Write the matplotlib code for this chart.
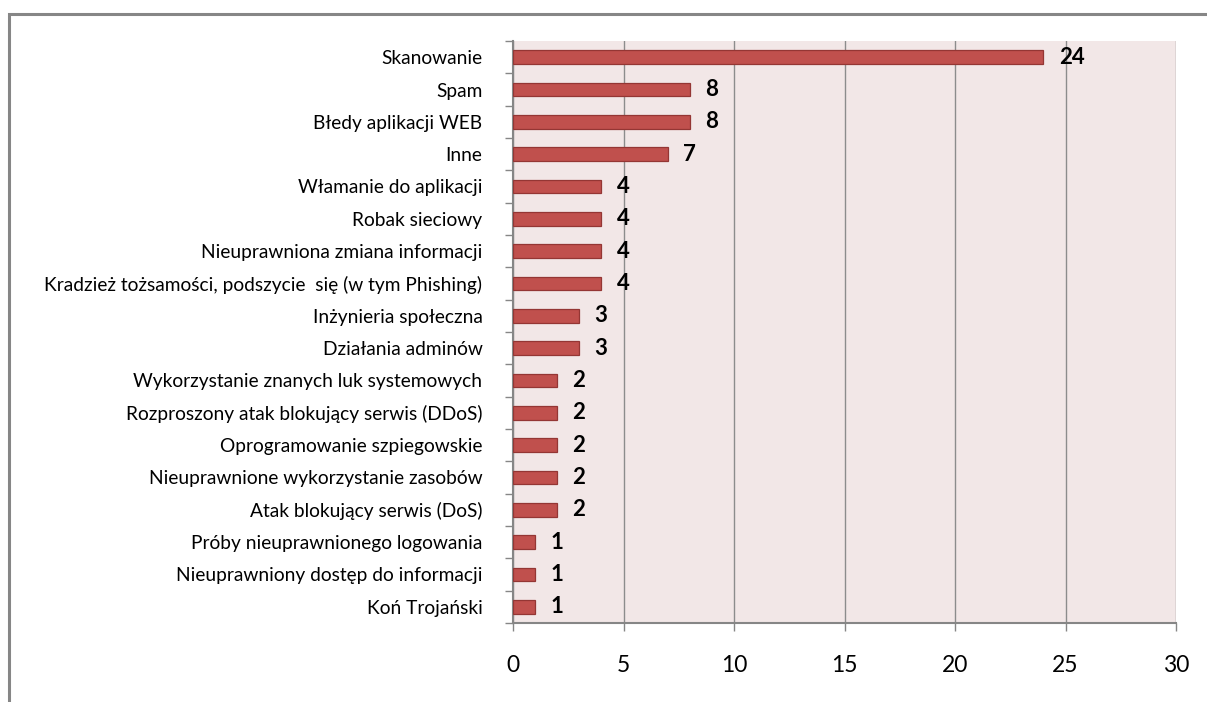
import matplotlib
matplotlib.use('Agg')
import matplotlib.pyplot as plt
from matplotlib.patches import Rectangle
import numpy as np

# Incident categories (top to bottom) and counts
categories = ['Skanowanie', 'Spam', 'Błedy aplikacji WEB', 'Inne',
              'Włamanie do aplikacji', 'Robak sieciowy',
              'Nieuprawniona zmiana informacji',
              'Kradzież tożsamości, podszycie  się (w tym Phishing)',
              'Inżynieria społeczna', 'Działania adminów',
              'Wykorzystanie znanych luk systemowych',
              'Rozproszony atak blokujący serwis (DDoS)',
              'Oprogramowanie szpiegowskie',
              'Nieuprawnione wykorzystanie zasobów',
              'Atak blokujący serwis (DoS)',
              'Próby nieuprawnionego logowania',
              'Nieuprawniony dostęp do informacji',
              'Koń Trojański']
counts = [24, 8, 8, 7, 4, 4, 4, 4, 3, 3, 2, 2, 2, 2, 2, 1, 1, 1]
xticks = [0, 5, 10, 15, 20, 25, 30]

plt.rcParams['font.family'] = ['Lato', 'DejaVu Sans']

fig = plt.figure(figsize=(12.07, 7.02), dpi=100)
fig.patch.set_facecolor('white')

# outer chart frame
fig.patches.append(Rectangle((9 / 1207, -0.05), 1.2, 1 - 13.5 / 702 + 0.05,
                             transform=fig.transFigure, fill=False,
                             edgecolor='#868686', lw=2.2))

ax = fig.add_axes([513 / 1207, 1 - 623 / 702, 663 / 1207, 582 / 702])
ax.set_facecolor('#F2E7E7')

n = len(categories)
y = np.arange(n)
ax.barh(y, counts, height=0.42, color='#C0504D', edgecolor='#943634', lw=0.9, zorder=3)

for yi, v in zip(y, counts):
    ax.annotate(str(v), (v, yi), xytext=(11, 0), textcoords='offset points',
                ha='left', va='center', fontsize=16, fontweight='bold', color='black')

ax.set_xlim(0, 30)
ax.set_ylim(n - 0.5, -0.5)
ax.set_xticks(xticks)
ax.set_xticklabels([str(t) for t in xticks], fontsize=16.5)
ax.tick_params(axis='x', length=6, color='#868686', width=1, pad=17)
ax.grid(axis='x', color='#8C8C8C', lw=1, zorder=1)

ax.set_yticks(y)
ax.set_yticklabels(categories, fontsize=13.8)
ax.tick_params(axis='y', which='major', length=0, pad=22)
ax.set_yticks(np.arange(n + 1) - 0.5, minor=True)
ax.tick_params(axis='y', which='minor', length=6, color='#868686', width=1)

for side in ['top', 'right']:
    ax.spines[side].set_visible(False)
ax.spines['left'].set_color('#868686')
ax.spines['bottom'].set_color('#868686')
ax.spines['left'].set_linewidth(1.5)
ax.spines['bottom'].set_linewidth(1.5)

fig.savefig('out.png', dpi=100)
